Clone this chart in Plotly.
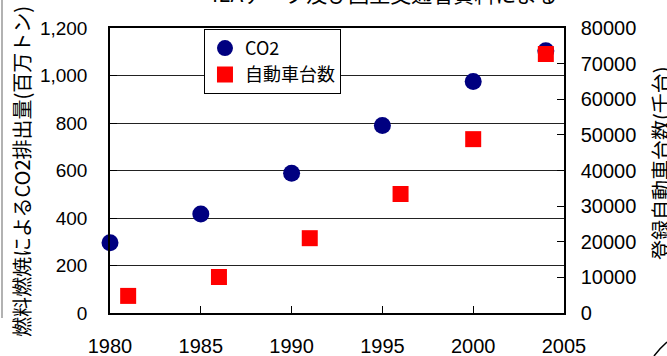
import plotly.graph_objects as go

co2_years = [1980, 1985, 1990, 1995, 2000, 2004]
co2_values = [296, 417, 588, 789, 975, 1104]
car_years = [1981, 1986, 1991, 1996, 2000, 2004]
car_values = [4800, 10100, 21000, 33400, 48800, 72700]

x_ticks = [1980, 1985, 1990, 1995, 2000, 2005]
left_ticks = [0, 200, 400, 600, 800, 1000, 1200]
right_ticks = [0, 10000, 20000, 30000, 40000, 50000, 60000, 70000, 80000]

FONT = "Liberation Sans, Arial, Noto Sans CJK JP, sans-serif"
JFONT = "Noto Sans CJK JP, Liberation Sans, sans-serif"

fig = go.Figure()
fig.add_trace(go.Scatter(
    x=co2_years, y=co2_values, name="CO2", mode="markers",
    marker=dict(symbol="circle", size=17, color="#000080"),
    cliponaxis=False, yaxis="y"))
fig.add_trace(go.Scatter(
    x=car_years, y=car_values, name="自動車台数", mode="markers",
    marker=dict(symbol="square", size=16, color="#FF0000"),
    cliponaxis=False, yaxis="y2"))

fig.update_layout(
    width=667, height=356,
    margin=dict(l=110, r=103, t=28, b=43, autoexpand=False),
    paper_bgcolor="white", plot_bgcolor="white",
    font=dict(family=FONT, size=20, color="black"),
    showlegend=True,
    legend=dict(x=0.207, y=0.997, xanchor="left", yanchor="top",
                bgcolor="white", bordercolor="black", borderwidth=1,
                font=dict(family=JFONT, size=18), tracegroupgap=0,
                itemwidth=30),
    xaxis=dict(range=[1980, 2005], tickvals=x_ticks, ticks="inside", ticklen=7,
               tickcolor="black", showline=True, linecolor="black", linewidth=1.5,
               mirror=True, showgrid=False, zeroline=False, automargin=False,
               ticklabelstandoff=14, tickfont=dict(size=20)),
    yaxis=dict(range=[0, 1200], tickvals=left_ticks, tickformat=",",
               ticks="inside", ticklen=7, tickcolor="black", automargin=False,
               showline=True, linecolor="black", linewidth=1.5,
               showgrid=True, gridcolor="#222222", gridwidth=1, zeroline=False,
               ticklabelstandoff=17, tickfont=dict(size=19)),
    yaxis2=dict(range=[0, 80000], tickvals=right_ticks, tickformat="d",
                overlaying="y", side="right", ticks="inside", ticklen=7,
                tickcolor="black", showline=True, linecolor="black", linewidth=1.5,
                showgrid=False, zeroline=False, automargin=False,
                ticklabelstandoff=11, tickfont=dict(size=20)),
)

fig.add_annotation(text="燃料燃焼によるCO2排出量(百万トン)", xref="paper", yref="paper",
                   x=(22 - 110) / 454, y=0.495, xanchor="center", yanchor="middle",
                   textangle=-90, showarrow=False,
                   font=dict(family=JFONT, size=20))
fig.add_annotation(text="登録自動車台数(千台)", xref="paper", yref="paper",
                   x=(660 - 110) / 454, y=0.526, xanchor="center", yanchor="middle",
                   textangle=-90, showarrow=False,
                   font=dict(family=JFONT, size=20))
fig.add_annotation(text="IEAデータ及び国土交通省資料による", xref="paper", yref="paper",
                   x=0.606, y=1.063, yanchor="bottom", showarrow=False,
                   font=dict(family=JFONT, size=21))

# fragments of neighbouring drawings at the image edges
fig.add_shape(type="line", xref="paper", yref="paper",
              x0=(2 - 110) / 454, x1=(2 - 110) / 454,
              y0=(313 - 0) / 285, y1=(313 - 318) / 285,
              line=dict(color="#999999", width=1.5))
fig.add_shape(type="path", xref="paper", yref="paper",
              path="M %f %f Q %f %f %f %f" % (
                  (654 - 110) / 454, (313 - 356) / 285,
                  (660 - 110) / 454, (313 - 348) / 285,
                  (667 - 110) / 454, (313 - 342) / 285),
              line=dict(color="black", width=1.5))

fig.write_html("out.html", config={"displayModeBar": False},
               post_script="document.body.style.margin='0';document.body.style.overflow='hidden';")
